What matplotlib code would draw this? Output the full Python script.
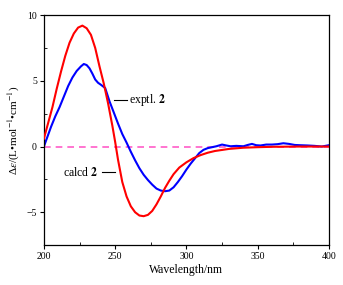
import matplotlib

matplotlib.use("Agg")
import matplotlib.pyplot as plt
from matplotlib.ticker import MultipleLocator

# calculated ECD (red)
calcd_wl = [200, 202, 204, 206, 209, 212, 215, 218, 221, 224, 227, 230, 233, 236, 239,
            242, 245, 248, 250, 252, 255, 258, 261, 264, 267, 270, 273, 276, 279,
            282, 285, 288, 291, 295, 300, 305, 310, 315, 320, 330, 340, 350, 360,
            370, 380, 400]
calcd_de = [0.6, 1.4, 2.2, 3.0, 4.4, 5.7, 6.9, 7.9, 8.6, 9.05, 9.2, 9.0, 8.5, 7.5, 6.1,
            4.8, 3.3, 1.6, 0.35, -1.0, -2.7, -3.8, -4.55, -5.0, -5.25, -5.3, -5.2, -4.9, -4.4,
            -3.8, -3.15, -2.6, -2.1, -1.6, -1.2, -0.88, -0.65, -0.47, -0.34, -0.18, -0.09, -0.05, -0.02,
            -0.01, 0.0, 0.0]

# experimental ECD (blue)
exptl_wl = [200, 202, 205, 208, 211, 214, 217, 220, 223, 226, 228, 230, 232, 234,
            236, 238, 240, 243, 246, 249, 252, 255, 258, 261, 264, 267, 270, 273,
            276, 279, 282, 285, 288, 291, 294, 297, 300, 303, 306, 309, 312, 315,
            318, 321, 325, 328, 331, 335, 340, 343, 346, 349, 352, 356, 360, 364,
            368, 372, 376, 380, 385, 390, 395, 400]
exptl_de = [0.0, 0.6, 1.5, 2.3, 3.0, 3.8, 4.6, 5.25, 5.75, 6.1, 6.28, 6.2, 5.95, 5.55,
            5.1, 4.85, 4.7, 4.45, 3.45, 2.6, 1.75, 0.95, 0.3, -0.4, -1.05, -1.65, -2.15, -2.55,
            -2.9, -3.2, -3.35, -3.4, -3.35, -3.1, -2.7, -2.25, -1.75, -1.3, -0.9, -0.5, -0.25, -0.12,
            -0.05, 0.02, 0.15, 0.08, 0.02, 0.05, 0.02, 0.12, 0.2, 0.1, 0.08, 0.15, 0.15, 0.18,
            0.25, 0.2, 0.12, 0.1, 0.08, 0.05, 0.0, 0.1]

plt.rcParams["font.family"] = ["Liberation Serif", "DejaVu Serif"]
plt.rcParams["mathtext.fontset"] = "stix"

fig = plt.figure(figsize=(3.43, 2.85), dpi=100)
ax = fig.add_axes([0.128, 0.14, 0.831, 0.807])

ax.axhline(0, color="#ff5cc8", lw=1.2, ls=(0, (4, 3)), zorder=1)
ax.plot(calcd_wl, calcd_de, color="#ff0000", lw=1.5, zorder=3)
ax.plot(exptl_wl, exptl_de, color="#0000ff", lw=1.5, zorder=2)

ax.plot([249, 258], [3.57, 3.57], color="black", lw=0.8)
ax.text(260, 3.57, r"exptl. $\mathbf{2}$", fontsize=8.5, va="center", ha="left")
ax.plot([240.5, 250], [-1.95, -1.95], color="black", lw=0.8)
ax.text(238, -1.95, r"calcd $\mathbf{2}$", fontsize=8.5, va="center", ha="right")

ax.set_xlim(200, 400)
ax.set_ylim(-7.5, 10)
ax.xaxis.set_major_locator(MultipleLocator(50))
ax.xaxis.set_minor_locator(MultipleLocator(25))
ax.yaxis.set_major_locator(MultipleLocator(5))
ax.yaxis.set_minor_locator(MultipleLocator(2.5))
ax.tick_params(which="major", direction="out", length=3, width=0.8, labelsize=7, pad=2)
ax.tick_params(which="minor", direction="in", length=2, width=0.6)
for s in ax.spines.values():
    s.set_linewidth(0.9)

ax.set_xlabel("Wavelength/nm", fontsize=8.5, labelpad=2)
ax.set_ylabel(r"Δ$\varepsilon$/(L•mol$^{-1}$•cm$^{-1}$)", fontsize=8, labelpad=3)

fig.savefig("out.png", dpi=100)
